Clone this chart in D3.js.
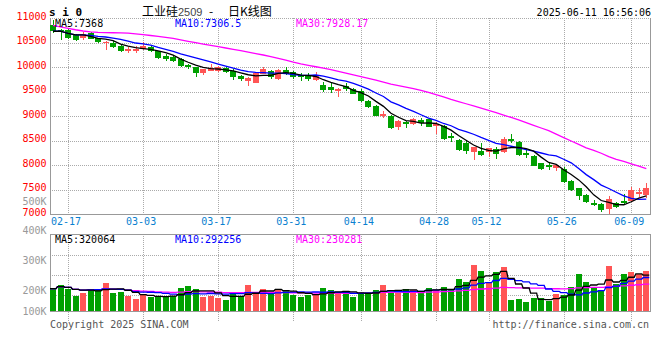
<!DOCTYPE html>
<html>
<head>
<meta charset="utf-8">
<title>si0 日K线图</title>
<script src="https://d3js.org/d3.v7.min.js"></script>
<style>
body { margin: 0; background: #fff; }
svg { display: block; }
.mono { font-family: "DejaVu Sans Mono", monospace; font-size: 10px; }
.grid { stroke: #aaa; stroke-dasharray: 1,1; shape-rendering: crispEdges; }
.frame { stroke: #999; shape-rendering: crispEdges; }
</style>
</head>
<body>
<svg width="660" height="360"></svg>
<script>
// trading days shown on the chart
var dates = ["02-13","02-14","02-17","02-18","02-19","02-20","02-21","02-24","02-25","02-26",
  "02-27","02-28","03-03","03-04","03-05","03-06","03-07","03-10","03-11","03-12",
  "03-13","03-14","03-17","03-18","03-19","03-20","03-21","03-24","03-25","03-26",
  "03-27","03-28","03-31","04-01","04-02","04-03","04-07","04-08","04-09","04-10",
  "04-11","04-14","04-15","04-16","04-17","04-18","04-21","04-22","04-23","04-24",
  "04-25","04-28","04-29","04-30","05-06","05-07","05-08","05-09","05-12","05-13",
  "05-14","05-15","05-16","05-19","05-20","05-21","05-22","05-23","05-26","05-27",
  "05-28","05-29","05-30","06-03","06-04","06-05","06-06","06-09","06-10","06-11"];

var opens = [10850,10760,10760,10660,10590,10690,10590,10480,10500,10430,
  10320,10320,10360,10415,10320,10220,10200,10160,10035,9995,
  9870,9925,9920,9985,9920,9815,9720,9680,9860,9920,
  9755,9940,9890,9835,9835,9735,9630,9600,9540,9610,
  9545,9520,9310,9200,9020,9005,8780,8880,8840,8920,
  8930,8800,8800,8600,8510,8440,8260,8290,8270,8335,
  8270,8525,8475,8250,8185,8035,8010,7945,7910,7680,
  7525,7385,7230,7205,7095,7215,7265,7270,7400,7390];
var highs = [10960,10775,10775,10680,10720,10710,10600,10530,10540,10450,
  10400,10420,10510,10440,10330,10260,10230,10180,10070,10010,
  9960,10060,10030,10000,9960,9840,9800,9880,10010,9940,
  9950,10010,9920,9870,9884,9890,9700,9680,9570,9667,
  9580,9550,9330,9220,9110,9020,8920,8900,8960,8953,
  8950,8870,8820,8647,8530,8510,8370,8455,8350,8360,
  8565,8640,8490,8306,8200,8050,8047,8020,7960,7700,
  7540,7400,7286,7230,7365,7251,7400,7545,7525,7625];
var lows = [10690,10560,10578,10524,10557,10570,10490,10350,10388,10300,
  10280,10292,10340,10310,10160,10130,10100,10000,9960,9790,
  9837,9910,9890,9880,9735,9714,9620,9670,9850,9760,
  9740,9840,9760,9714,9720,9720,9496,9463,9390,9510,
  9440,9292,9170,8990,8960,8730,8714,8749,8820,8802,
  8770,8640,8520,8476,8290,8224,8102,8180,8170,8122,
  8250,8450,8190,8137,7970,7900,7898,7871,7640,7470,
  7286,7230,7163,7047,7010,7116,7210,7251,7350,7320];
var closes = [10730,10735,10590,10560,10670,10580,10510,10520,10415,10320,
  10360,10370,10420,10320,10185,10170,10115,10020,9995,9885,
  9950,9975,9990,9905,9790,9745,9780,9870,9960,9790,
  9940,9860,9790,9790,9755,9835,9530,9530,9550,9550,
  9450,9310,9180,9005,9040,8750,8900,8830,8935,8850,
  8780,8840,8540,8545,8305,8290,8360,8195,8340,8225,
  8525,8500,8205,8205,7980,7915,7955,8005,7660,7490,
  7370,7250,7185,7080,7300,7150,7230,7490,7455,7525];

// MA30 of price
var ma30 = [10850,10820,10790,10760,10735,10718,10708,10703,10699,10696,
  10692,10676,10660,10643,10627,10605,10583,10555,10525,10497,
  10469,10442,10415,10388,10360,10332,10304,10275,10245,10210,
  10175,10140,10100,10065,10035,10005,9975,9945,9910,9875,
  9840,9805,9770,9730,9690,9650,9620,9590,9560,9525,
  9480,9435,9390,9340,9295,9250,9205,9160,9115,9070,
  9020,8970,8920,8865,8810,8755,8700,8630,8560,8490,
  8420,8350,8300,8240,8170,8115,8075,8025,7975,7928];

var volumes = [199000,234000,199000,136000,163000,199000,199000,252000,163000,172000,
  136000,109000,149000,125000,130000,125000,136000,207000,222000,199000,
  127000,136000,118000,100000,169000,127000,231000,163000,199000,169000,
  199000,178000,139000,127000,142000,145000,207000,190000,169000,157000,
  127000,160000,169000,187000,231000,163000,163000,196000,187000,163000,
  205000,187000,214000,196000,285000,258000,409000,356000,258000,347000,
  392000,98000,107000,80000,116000,116000,89000,151000,142000,214000,
  329000,258000,214000,178000,400000,240000,333000,350000,325000,352000];

var dateTicks = ["02-17","03-03","03-17","03-31","04-14","04-28","05-12","05-26","06-09"];
var priceTicks = [7000,7500,8000,8500,9000,9500,10000,10500,11000];
var volTicks = [100000,200000,300000,400000,500000];

var priceLegend = [["MA5:7368","#000",55],["MA10:7306.5","#00f",175],["MA30:7928.17","#f0f",296]];
var volLegend = [["MA5:320064","#000",55],["MA10:292256","#00f",175],["MA30:230281","#f0f",296]];

var upColor = "#ff5555", downColor = "#00a000";

var svg = d3.select("svg");
var left = 50, right = 650;
var mainTop = 18, mainBottom = 214;
var volTop = 234, volBottom = 311;

var x = d3.scaleBand().domain(dates).range([left, 649.3]).paddingInner(0.2).paddingOuter(0);
var bw = x.bandwidth();
var y = d3.scaleLinear().domain([7000, 11000]).range([mainBottom, mainTop]);
var yv = d3.scaleLinear().domain([0, 685000]).range([volBottom, volTop]);
// Sina prints its volume labels at uneven heights
var yvLabel = d3.scaleLinear().domain(volTicks).range([311, 290.5, 260, 230.7, 201]);

function movingAvg(arr, n) {
  return arr.map(function(v, i) {
    return d3.mean(arr.slice(Math.max(0, i - n + 1), i + 1));
  });
}
var idx = d3.range(dates.length);
var ma5 = movingAvg(closes, 5), ma10 = movingAvg(closes, 10);
var vma5 = movingAvg(volumes, 5), vma10 = movingAvg(volumes, 10), vma30 = movingAvg(volumes, 30);

// ---- header
svg.append("text").attr("class", "mono").attr("x", 49).attr("y", 12)
  .attr("dominant-baseline", "central").style("font-weight", "bold").style("font-size", "11px")
  .text("s i 0");
var title = svg.append("g").style("font-family", "'Noto Sans CJK SC', sans-serif").style("font-size", "12px");
title.append("text").attr("x", 142).attr("y", 15.5).text("工业硅");
title.append("text").attr("x", 178).attr("y", 15.5).style("font-family", "'Liberation Sans', Arial, sans-serif")
  .style("font-size", "11px").attr("fill", "#444").text("2509");
title.append("text").attr("x", 209).attr("y", 15.5).text("-");
title.append("text").attr("x", 228).attr("y", 15.5).text("日K线图");
svg.append("text").attr("class", "mono").attr("x", 651).attr("y", 12)
  .attr("text-anchor", "end").attr("dominant-baseline", "central").text("2025-06-11 16:56:06");

// ---- grids
var gridX = dateTicks.map(function(d) { return x(d) + bw / 2; });
var gMain = svg.append("g");
gMain.selectAll("line.h").data(priceTicks.slice(1)).enter().append("line")
  .attr("class", "grid").attr("x1", left).attr("x2", right)
  .attr("y1", function(d) { return Math.round(y(d)) + 0.5; })
  .attr("y2", function(d) { return Math.round(y(d)) + 0.5; });
gMain.selectAll("line.v").data(gridX).enter().append("line")
  .attr("class", "grid").attr("y1", mainTop).attr("y2", mainBottom)
  .attr("x1", function(d) { return Math.round(d) + 0.5; })
  .attr("x2", function(d) { return Math.round(d) + 0.5; });

var gVol = svg.append("g");
gVol.selectAll("line.h").data([255.5, 275.5, 295.5]).enter().append("line")
  .attr("class", "grid").attr("x1", left).attr("x2", right)
  .attr("y1", function(d) { return d; }).attr("y2", function(d) { return d; });
gVol.selectAll("line.v").data(gridX).enter().append("line")
  .attr("class", "grid").attr("y1", volTop).attr("y2", 321)
  .attr("x1", function(d) { return Math.round(d) + 0.5; })
  .attr("x2", function(d) { return Math.round(d) + 0.5; });

// ---- frames
svg.append("path").attr("class", "frame").attr("fill", "none")
  .attr("d", "M50.5," + mainTop + "V" + (mainBottom + 0.5) + "H650.5V" + mainTop);
svg.append("rect").attr("class", "frame").attr("fill", "none")
  .attr("x", 50.5).attr("y", volTop + 0.5).attr("width", 600).attr("height", volBottom - volTop);

// ---- axis labels
svg.selectAll("text.py").data(priceTicks).enter().append("text")
  .attr("class", "mono").attr("fill", "#f00").attr("text-anchor", "end")
  .attr("dominant-baseline", "central").attr("x", 46.5)
  .attr("y", function(d) { return y(d) - 1.8; })
  .text(function(d) { return d; });
svg.selectAll("text.vy").data(volTicks).enter().append("text")
  .attr("class", "mono").attr("fill", "#999").attr("text-anchor", "end")
  .attr("dominant-baseline", "central").attr("x", 46.5)
  .attr("y", function(d) { return yvLabel(d); })
  .text(function(d) { return (d / 1000) + "K"; });
svg.selectAll("text.dx").data(dateTicks).enter().append("text")
  .attr("class", "mono").attr("fill", "#0a7fd0").attr("text-anchor", "middle")
  .attr("dominant-baseline", "central").attr("y", 221)
  .attr("x", function(d) { var c = x(d) + bw / 2 - 2; return Math.max(65, Math.min(634, c)); })
  .text(function(d) { return d; });

// ---- candles
var candles = svg.append("g").selectAll("g").data(idx).enter().append("g")
  .attr("fill", function(i) { return closes[i] > opens[i] ? upColor : downColor; })
  .attr("stroke", function(i) { return closes[i] > opens[i] ? upColor : downColor; })
  .style("shape-rendering", "crispEdges");
candles.append("line")
  .attr("x1", function(i) { return Math.round(x(dates[i]) + bw / 2) + 0.5; })
  .attr("x2", function(i) { return Math.round(x(dates[i]) + bw / 2) + 0.5; })
  .attr("y1", function(i) { return y(highs[i]); })
  .attr("y2", function(i) { return y(lows[i]); });
candles.append("rect")
  .attr("stroke", "none")
  .attr("x", function(i) { return x(dates[i]); })
  .attr("width", bw)
  .attr("y", function(i) { return y(Math.max(opens[i], closes[i])); })
  .attr("height", function(i) { return Math.max(1.5, Math.abs(y(opens[i]) - y(closes[i]))); });

// ---- price moving averages
var priceLine = d3.line().x(function(d, i) { return x(dates[i]) + bw / 2; }).y(function(d) { return y(d); });
[[ma30, "#f0f"], [ma10, "#00f"], [ma5, "#000"]].forEach(function(s) {
  svg.append("path").attr("fill", "none").attr("stroke", s[1]).attr("stroke-width", 1.3)
    .attr("d", priceLine(s[0]));
});

// ---- volume bars
svg.append("g").selectAll("rect").data(idx).enter().append("rect")
  .style("shape-rendering", "crispEdges")
  .attr("fill", function(i) { return closes[i] > opens[i] ? upColor : downColor; })
  .attr("x", function(i) { return x(dates[i]); })
  .attr("width", bw)
  .attr("y", function(i) { return yv(volumes[i]); })
  .attr("height", function(i) { return volBottom - yv(volumes[i]); });

// volume MAs: flat across each bar, joined over the gaps
var volLine = d3.line().x(function(d) { return d[0]; }).y(function(d) { return yv(d[1]); });
[[vma30, "#f0f"], [vma10, "#00f"], [vma5, "#000"]].forEach(function(s) {
  var pts = [];
  s[0].forEach(function(v, i) { pts.push([x(dates[i]), v]); pts.push([x(dates[i]) + bw, v]); });
  svg.append("path").attr("fill", "none").attr("stroke", s[1]).attr("stroke-width", 1.3)
    .attr("d", volLine(pts));
});

// ---- legends
svg.selectAll("text.pl").data(priceLegend).enter().append("text")
  .attr("class", "mono").attr("dominant-baseline", "central").attr("y", 23.5)
  .attr("x", function(d) { return d[2]; }).attr("fill", function(d) { return d[1]; })
  .text(function(d) { return d[0]; });
svg.selectAll("text.vl").data(volLegend).enter().append("text")
  .attr("class", "mono").attr("dominant-baseline", "central").attr("y", 239)
  .attr("x", function(d) { return d[2]; }).attr("fill", function(d) { return d[1]; })
  .text(function(d) { return d[0]; });

// ---- footer
svg.append("text").attr("class", "mono").attr("fill", "#555").attr("dominant-baseline", "central")
  .attr("x", 50).attr("y", 324).text("Copyright 2025 SINA.COM");
svg.append("text").attr("class", "mono").attr("fill", "#555").attr("dominant-baseline", "central")
  .attr("text-anchor", "end").attr("x", 649).attr("y", 324).text("http://finance.sina.com.cn");
</script>
</body>
</html>
